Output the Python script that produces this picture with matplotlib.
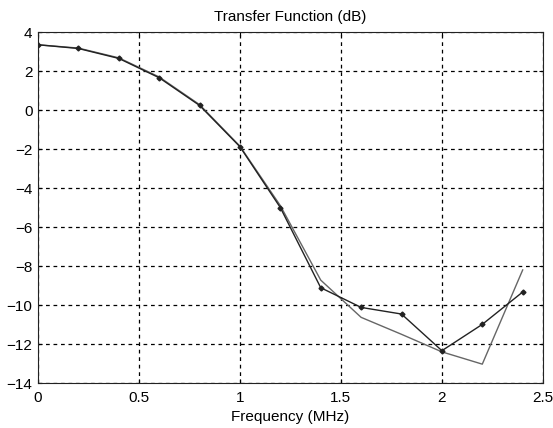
import matplotlib.pyplot as plt

plt.rcParams['font.family'] = ['Liberation Sans', 'DejaVu Sans']

freq = [0, 0.2, 0.4, 0.6, 0.8, 1.0, 1.2, 1.4, 1.6, 1.8, 2.0, 2.2, 2.4]
measured = [3.35, 3.16, 2.65, 1.66, 0.24, -1.88, -5.0, -9.11, -10.12, -10.46, -12.34, -10.99, -9.33]
model = [3.35, 3.18, 2.68, 1.70, 0.28, -1.85, -4.9, -8.72, -10.63, -11.5, -12.4, -13.03, -8.2]

fig = plt.figure(figsize=(5.53, 4.28), dpi=100)
ax = fig.add_axes([0.0687, 0.105, 0.913, 0.820])

ax.plot(freq, model, color='#666666', lw=1.0)
ax.plot(freq, measured, color='#222222', lw=1.0, marker='D', ms=2.5)

ax.set_xlim([0, 2.5])
ax.set_ylim([-14, 4])
ax.set_xticks([0, 0.5, 1, 1.5, 2, 2.5])
ax.set_xticklabels(['0', '0.5', '1', '1.5', '2', '2.5'])
ax.set_yticks(range(-14, 5, 2))
ax.grid(True, color='black', linestyle=(0, (3, 3)), lw=0.9)
ax.tick_params(direction='in', length=3, labelsize=11, top=True, right=True)
ax.tick_params(axis='x', pad=6)
ax.tick_params(axis='y', pad=4)
for s in ax.spines.values():
    s.set_color('#222222')

ax.set_title('Transfer Function (dB)', fontsize=11, pad=8)
ax.set_xlabel('Frequency (MHz)', fontsize=11, labelpad=3)

plt.savefig('out.png', dpi=100)
